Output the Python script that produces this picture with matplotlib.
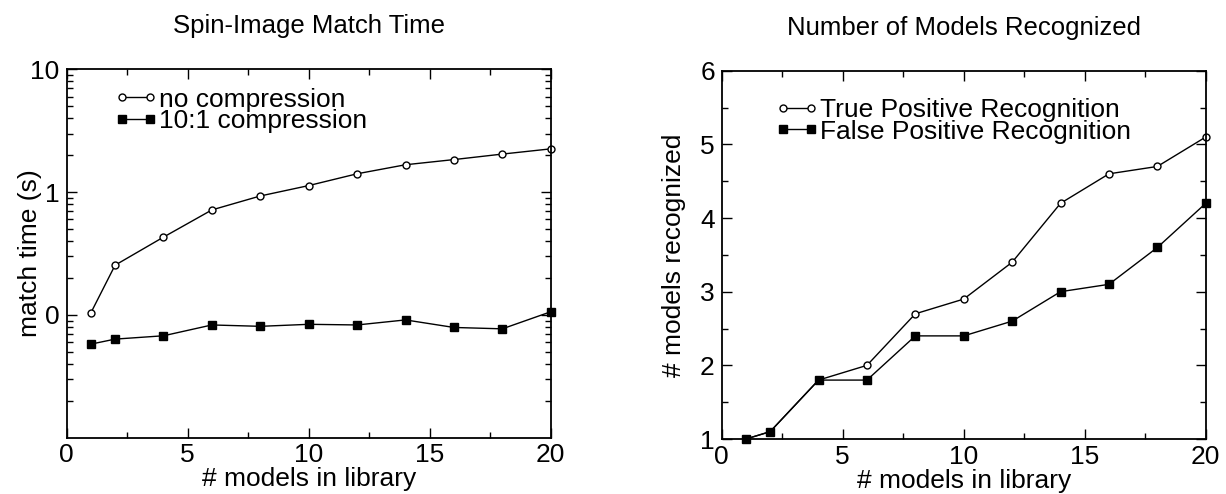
import matplotlib
matplotlib.use("Agg")
import matplotlib.pyplot as plt
from matplotlib.ticker import FixedLocator, FuncFormatter, MultipleLocator, LogLocator, NullFormatter

plt.rcParams['font.family'] = ['Liberation Sans', 'DejaVu Sans']

# data
n_models = [1, 2, 4, 6, 8, 10, 12, 14, 16, 18, 20]
time_no_comp = [0.104, 0.254, 0.43, 0.716, 0.93, 1.13, 1.41, 1.67, 1.84, 2.04, 2.25]
time_comp = [0.0578, 0.0635, 0.0676, 0.0828, 0.0807, 0.0838, 0.0828, 0.091, 0.079, 0.077, 0.106]
true_pos = [1.0, 1.1, 1.8, 2.0, 2.7, 2.9, 3.4, 4.2, 4.6, 4.7, 5.1]
false_pos = [1.0, 1.1, 1.8, 1.8, 2.4, 2.4, 2.6, 3.0, 3.1, 3.6, 4.2]


def style_axes(ax):
    ax.tick_params(which='both', direction='in', top=True, right=True,
                   labelsize=19, width=1)
    ax.tick_params(which='major', length=7)
    ax.tick_params(which='minor', length=4)
    ax.tick_params(axis='x', pad=4)
    ax.tick_params(axis='y', pad=5)
    for s in ax.spines.values():
        s.set_linewidth(1.3)


def add_legend(ax, x, y):
    ax.legend(loc='upper left', bbox_to_anchor=(x, y), frameon=False,
              numpoints=2, fontsize=19, handlelength=1.66, handletextpad=0.05,
              labelspacing=-0.1, borderaxespad=0, borderpad=0)


fig = plt.figure(figsize=(12.26, 4.94), dpi=100)

# left chart
ax1 = fig.add_axes([0.0544, 0.114, 0.3948, 0.7457])
ax1.plot(n_models, time_no_comp, '-', color='black', lw=1, marker='o',
         ms=5, mfc='white', mec='black', mew=1, label='no compression',
         clip_on=False)
ax1.plot(n_models, time_comp, '-', color='black', lw=1, marker='s',
         ms=6, mfc='black', mec='black', label='10:1 compression',
         clip_on=False)
ax1.set_yscale('log')
ax1.set_xlim(0, 20)
ax1.set_ylim(0.01, 10)
ax1.xaxis.set_major_locator(MultipleLocator(5))
ax1.xaxis.set_minor_locator(MultipleLocator(2.5))
ax1.yaxis.set_major_locator(FixedLocator([0.1, 1, 10]))
ax1.yaxis.set_major_formatter(FuncFormatter(lambda v, p: str(int(v))))
ax1.yaxis.set_minor_locator(LogLocator(base=10, subs=range(2, 10)))
ax1.yaxis.set_minor_formatter(NullFormatter())
style_axes(ax1)
ax1.set_xlabel('# models in library', fontsize=19, labelpad=0)
ax1.set_ylabel('match time (s)', fontsize=19)
ax1.yaxis.set_label_coords(-0.051, 0.5)
ax1.set_title('Spin-Image Match Time', fontsize=18.5, pad=26)
add_legend(ax1, 0.098, 0.95)

# right chart
ax2 = fig.add_axes([0.5887, 0.1113, 0.3948, 0.7456])
ax2.plot(n_models, true_pos, '-', color='black', lw=1, marker='o',
         ms=5, mfc='white', mec='black', mew=1,
         label='True Positive Recognition', clip_on=False)
ax2.plot(n_models, false_pos, '-', color='black', lw=1, marker='s',
         ms=6, mfc='black', mec='black',
         label='False Positive Recognition', clip_on=False)
ax2.set_xlim(0, 20)
ax2.set_ylim(1, 6)
ax2.xaxis.set_major_locator(MultipleLocator(5))
ax2.xaxis.set_minor_locator(MultipleLocator(2.5))
ax2.yaxis.set_major_locator(MultipleLocator(1))
ax2.yaxis.set_minor_locator(MultipleLocator(0.5))
style_axes(ax2)
ax2.set_xlabel('# models in library', fontsize=19, labelpad=0)
ax2.set_ylabel('# models recognized', fontsize=19)
ax2.yaxis.set_label_coords(-0.074, 0.5)
ax2.set_title('Number of Models Recognized', fontsize=18.5, pad=26)
add_legend(ax2, 0.110, 0.925)

fig.savefig('out.png', dpi=100)
